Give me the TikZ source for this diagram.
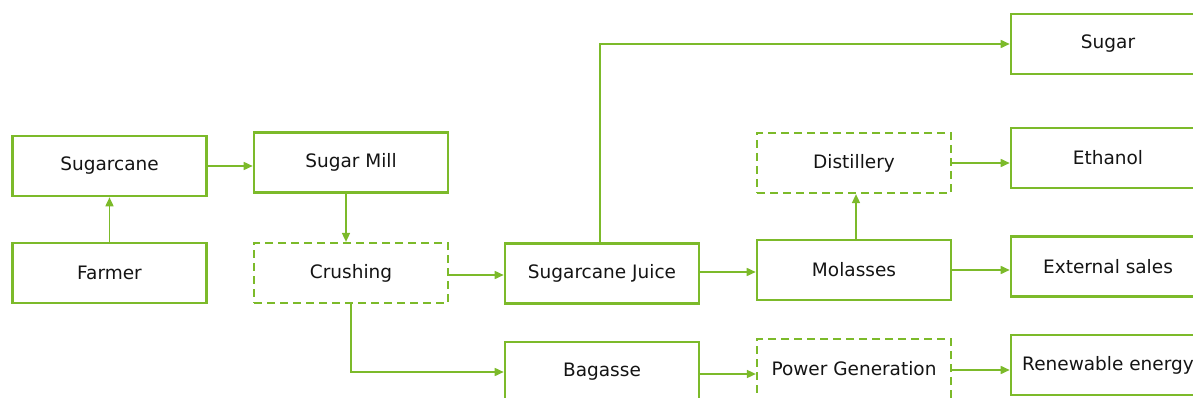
\documentclass[tikz,border=0pt]{standalone}
\usepackage{fontspec}
\setmainfont{DejaVu Sans}
\usetikzlibrary{arrows.meta,calc}
\definecolor{grn}{RGB}{124,186,42}
\definecolor{txt}{RGB}{20,20,20}
\begin{document}
\begin{tikzpicture}[x=1pt,y=-1pt,
  box/.style={draw=grn,line width=2.6pt,minimum width=194pt,minimum height=60pt,inner sep=0pt,
    text=txt,font=\fontsize{18.5}{21}\selectfont},
  dbox/.style={box,line width=2.2pt,dash pattern=on 8pt off 5pt},
  arr/.style={draw=grn,line width=1.6pt,-{Triangle[length=9pt,width=8pt]}}]
\useasboundingbox (0,0) rectangle (1193,398);
\node[box]  (sc)    at (109.5,166)  {Sugarcane};
\node[box]  (farm)  at (109.5,273)  {Farmer};
\node[box]  (mill)  at (351,162.5)  {Sugar Mill};
\node[dbox] (crush) at (351,273)    {Crushing};
\node[box]  (juice) at (602,273.5)  {Sugarcane Juice};
\node[box]  (bag)   at (602,372)    {Bagasse};
\node[dbox] (dist)  at (854,163)    {Distillery};
\node[box]  (mol)   at (854,270)    {Molasses};
\node[dbox] (pow)   at (854,369)    {Power Generation};
\node[box]  (sugar) at (1108,44)    {Sugar};
\node[box]  (eth)   at (1108,158)   {Ethanol};
\node[box]  (ext)   at (1108,266.5) {External sales};
\node[box]  (ren)   at (1108,365)   {Renewable energy};

\draw[arr] (farm.north) -- (sc.south);
\draw[arr] (sc.east) -- (sc.east -| mill.west);
\draw[arr] ([xshift=-5pt]mill.south) -- ([xshift=-5pt]crush.north);
\draw[arr] ([yshift=-2pt]crush.east) -- ([yshift=-2pt]crush.east -| juice.west);
\draw[arr] (crush.south) |- (bag.west);
\draw[arr] ([xshift=-2pt]juice.north) |- (sugar.west);
\draw[arr] ([yshift=1.5pt]juice.east) -- ([yshift=1.5pt]juice.east -| mol.west);
\draw[arr] ([xshift=2pt]mol.north) -- ([xshift=2pt]dist.south);
\draw[arr] (dist.east) -- (dist.east -| eth.west);
\draw[arr] (mol.east) -- (mol.east -| ext.west);
\draw[arr] ([yshift=-2pt]bag.east) -- ([yshift=-2pt]bag.east -| pow.west);
\draw[arr] ([yshift=-1pt]pow.east) -- ([yshift=-1pt]pow.east -| ren.west);
\end{tikzpicture}
\end{document}
